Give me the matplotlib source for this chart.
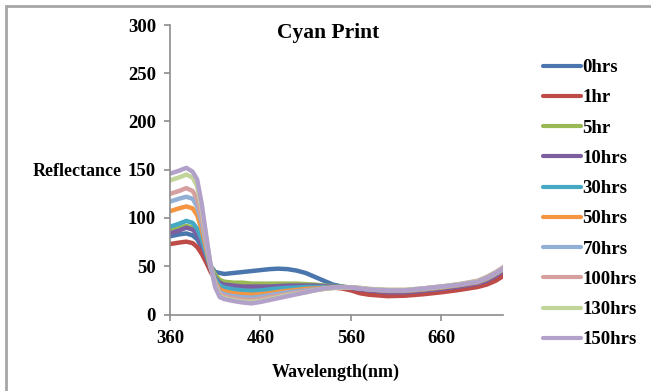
import matplotlib
matplotlib.use("Agg")
import matplotlib.pyplot as plt
from matplotlib.patches import Rectangle

plt.rcParams['font.family'] = ['Liberation Serif', 'DejaVu Serif']
plt.rcParams['font.weight'] = 'bold'

# wavelength grid (nm)
wl = [360, 370, 378, 385, 390, 395, 400, 405, 410, 415, 420, 430, 440, 450,
      460, 470, 480, 490, 500, 510, 520, 530, 540, 550, 560, 570, 580, 600,
      620, 640, 660, 680, 700, 710, 720, 730]

labels = ['0hrs', '1hr', '5hr', '10hrs', '30hrs', '50hrs', '70hrs',
          '100hrs', '130hrs', '150hrs']
colors = ['#4a76ad', '#bd4b48', '#98b954', '#7d5fa0', '#46a9c4', '#f59441',
          '#92afd6', '#d7a0a0', '#c1d59a', '#b2a2c9']

r_0 = [81, 83, 84, 82, 78, 70, 60, 50, 44, 43, 42, 43, 44, 45,
       46, 47, 47.5, 47, 45.5, 43, 39, 35, 31, 29, 27, 25, 24, 22.5,
       22.5, 23.5, 25, 27.5, 30.5, 33, 38, 44]
r_1 = [73, 74.5, 75.5, 74, 70, 63, 54, 44, 36, 31, 29, 28, 27.5, 27,
       27, 27.5, 28, 28.5, 28.5, 28.5, 28.5, 28.5, 28, 27, 25, 22, 20.5, 19,
       19.5, 21, 23, 25.5, 28.5, 31, 35, 41]
r_5 = [87, 89.5, 92, 90, 85, 75, 63, 50, 41, 36, 34, 33, 33, 32,
       32, 32, 32, 32, 32, 31.5, 31, 30, 29.5, 29, 28, 27, 26, 24,
       24, 25.5, 27.5, 30, 33, 36, 41, 47]
r_10 = [84, 87, 90, 88, 83, 73, 60, 47, 38, 33, 31, 30, 29, 29,
        29, 29, 29.5, 30, 30, 30, 30, 29.5, 29, 28.5, 27.5, 26, 25, 23,
        23, 24.5, 26.5, 29, 32, 35, 40, 46]
r_30 = [91, 94, 97, 95, 89, 78, 63, 48, 37, 30, 28, 26, 25, 24.5,
        25, 26, 27, 27.5, 28, 28.5, 28.5, 28.5, 28.5, 28.5, 28, 27, 26, 24.5,
        24.5, 26, 28, 30.5, 33.5, 37, 42, 48]
r_50 = [107, 110, 112, 110, 103, 88, 68, 48, 34, 26, 24, 22, 21, 20.5,
        21, 22, 23.5, 24.5, 25.5, 26.5, 27, 27.5, 28, 28, 28, 27, 26, 24.5,
        24.5, 26, 28, 30.5, 33.5, 37, 42, 48]
r_70 = [117, 120, 122, 120, 112, 95, 72, 49, 33, 23, 21, 19, 18, 17.5,
        18.5, 20, 21.5, 23, 24, 25, 26, 27, 27.5, 28, 28, 27, 26, 25,
        25, 26.5, 28.5, 31, 34, 37.5, 42.5, 48]
r_100 = [125, 128, 131, 128, 120, 101, 76, 50, 32, 21, 19, 17, 15.5, 15,
         16, 18, 19.5, 21, 22.5, 24, 25.5, 26.5, 27.5, 28, 28, 27.5, 26.5, 25.5,
         25.5, 27, 29, 31.5, 35, 39, 44, 50]
r_130 = [139, 142, 145, 142, 133, 110, 80, 50, 30, 19, 17, 15, 13.5, 13,
         14, 16, 18, 20, 21.5, 23, 25, 26.5, 27.5, 28, 28, 27.5, 26.5, 25.5,
         25.5, 27, 29, 31.5, 34.5, 38.5, 43.5, 49]
r_150 = [146, 149, 152, 148, 140, 115, 82, 50, 28, 18, 16, 14, 12.5, 11.5,
         13, 15, 17, 19, 21, 23, 25, 27, 28, 28.5, 28, 27, 26, 25,
         25, 27, 29, 31, 34, 38, 43, 49]

series = [r_0, r_1, r_5, r_10, r_30, r_50, r_70, r_100, r_130, r_150]

fig = plt.figure(figsize=(6.51, 3.91), dpi=100)
ax = fig.add_axes([170 / 651, 1 - 314.5 / 391, 333 / 651, 289.5 / 391])

for vals, lab, c in zip(series, labels, colors):
    ax.plot(wl, vals, color=c, lw=3.2, label=lab, solid_capstyle='round')

ax.set_xlim(360, 728)
ax.set_ylim(0, 300)
ax.set_xticks([360, 460, 560, 660])
ax.set_yticks(range(0, 301, 50))
for s in ['top', 'right']:
    ax.spines[s].set_visible(False)
for s in ['left', 'bottom']:
    ax.spines[s].set_color('#8c8c8c')
    ax.spines[s].set_linewidth(1.2)
ax.tick_params(axis='both', colors='#8c8c8c', length=4, width=1.2,
               labelcolor='black', labelsize=13.5)
ax.tick_params(axis='x', pad=7)
ax.tick_params(axis='y', pad=6)

fig.text(328 / 651, 1 - 33 / 391, 'Cyan Print', ha='center', va='center',
         fontsize=15.5, fontweight='bold')
fig.text(336 / 651, 1 - 372 / 391, 'Wavelength(nm)', ha='center',
         va='center', fontsize=13, fontweight='bold')
fig.text(33 / 651, 1 - 171 / 391, 'Reflectance', ha='left', va='center',
         fontsize=13, fontweight='bold')

leg = fig.legend(loc='upper left', bbox_to_anchor=(543 / 651, 1 - 59 / 391),
                 frameon=False, fontsize=13.5, handlelength=2.0,
                 handletextpad=0.1, labelspacing=0.7, borderpad=0,
                 borderaxespad=0)
for line in leg.get_lines():
    line.set_linewidth(3)

# outer chart frame
fig.patches.append(Rectangle((6 / 651, -0.05), 1.2, 1.05 - 6 / 391,
                             transform=fig.transFigure, fill=False,
                             edgecolor='#a6a6a6', lw=2))

fig.savefig('out.png', dpi=100)
